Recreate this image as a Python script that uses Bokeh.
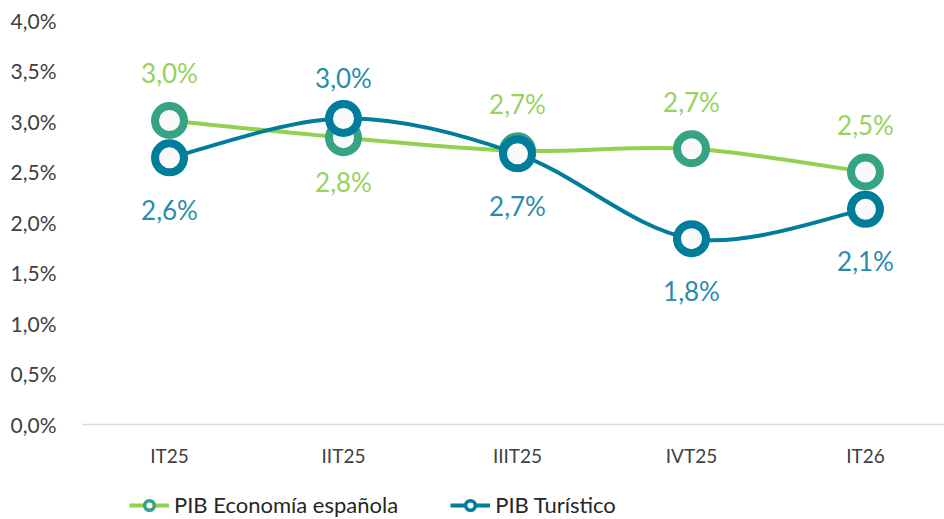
from bokeh.plotting import figure
from bokeh.models import ColumnDataSource, FixedTicker, Range1d, Legend, LegendItem, CustomJSTickFormatter, Span
from bokeh.embed import file_html
from bokeh.resources import INLINE
from bokeh.core.properties import value

quarters = ["IT25", "IIT25", "IIIT25", "IVT25", "IT26"]
pib_economia = [3.01, 2.84, 2.71, 2.73, 2.50]
pib_turistico = [2.64, 3.03, 2.68, 1.84, 2.13]
labels_economia = ["3,0%", "2,8%", "2,7%", "2,7%", "2,5%"]
labels_turistico = ["2,6%", "3,0%", "2,7%", "1,8%", "2,1%"]
place_economia = ["above", "below", "above", "above", "above"]
place_turistico = ["below", "above", "below", "below", "below"]
y_ticks = [0.0, 0.5, 1.0, 1.5, 2.0, 2.5, 3.0, 3.5, 4.0]

GREEN_LINE = "#92D050"
GREEN_MARK = "#36A385"
GREEN_TEXT = "#97D25E"
BLUE_LINE = "#007D9B"
BLUE_TEXT = "#2A8CA8"
FONT = "Lato"

xs = list(range(len(quarters)))

p = figure(width=944, height=519, output_backend="svg", toolbar_location=None,
           x_range=Range1d(-0.5, 4.454), y_range=Range1d(-0.9406, 4.0),
           min_border_left=82, min_border_right=0, min_border_top=20, min_border_bottom=0)
p.outline_line_color = None
p.background_fill_color = "white"
p.xgrid.grid_line_color = None
p.ygrid.grid_line_color = None

# y axis
p.yaxis.ticker = FixedTicker(ticks=y_ticks)
p.yaxis.formatter = CustomJSTickFormatter(code="return tick.toFixed(1).replace('.', ',') + '%';")
p.yaxis.axis_line_color = None
p.yaxis.major_tick_line_color = None
p.yaxis.minor_tick_line_color = None
p.yaxis.major_label_standoff = 20
p.yaxis.major_label_text_font = FONT
p.yaxis.major_label_text_font_size = "21px"
p.yaxis.major_label_text_color = "#404040"

# category axis drawn inside the frame (baseline + labels) so the legend fits below it
p.xaxis.visible = False
p.add_layout(Span(location=0, dimension="width", line_color="#D9D9D9", line_width=1.5))
p.text(x=xs, y=[0] * len(xs), text=quarters, y_offset=31, text_align="center",
       text_baseline="middle", text_font=value(FONT), text_font_size="19px",
       text_color="#404040")


def smooth_segments(ys):
    # Bezier control points derived from the series (Catmull-Rom style smoothing)
    n = len(ys)
    segs = dict(x0=[], y0=[], x1=[], y1=[], cx0=[], cy0=[], cx1=[], cy1=[])
    for i in range(n - 1):
        p0 = (xs[max(i - 1, 0)], ys[max(i - 1, 0)])
        p1 = (xs[i], ys[i])
        p2 = (xs[i + 1], ys[i + 1])
        p3 = (xs[min(i + 2, n - 1)], ys[min(i + 2, n - 1)])
        segs["x0"].append(p1[0]); segs["y0"].append(p1[1])
        segs["x1"].append(p2[0]); segs["y1"].append(p2[1])
        segs["cx0"].append(p1[0] + (p2[0] - p0[0]) / 6)
        segs["cy0"].append(p1[1] + (p2[1] - p0[1]) / 6)
        segs["cx1"].append(p2[0] - (p3[0] - p1[0]) / 6)
        segs["cy1"].append(p2[1] - (p3[1] - p1[1]) / 6)
    return ColumnDataSource(segs)


def add_series(ys, line_color, mark_color, text_color, labels, places, above_off, below_off):
    p.bezier(x0="x0", y0="y0", x1="x1", y1="y1", cx0="cx0", cy0="cy0", cx1="cx1", cy1="cy1",
             source=smooth_segments(ys), line_color=line_color, line_width=4)
    sc = p.scatter(xs, ys, size=29, fill_color="#F9F9F9", line_color=mark_color, line_width=8)
    offs = [above_off if pl == "above" else below_off for pl in places]
    src = ColumnDataSource(dict(x=xs, y=ys, t=labels, o=offs))
    p.text(x="x", y="y", text="t", y_offset="o", source=src, text_align="center",
           text_baseline="middle", text_font=value(FONT), text_font_size="26px",
           text_color=text_color)
    return sc


add_series(pib_economia, GREEN_LINE, GREEN_MARK, GREEN_TEXT, labels_economia, place_economia, -47, 44)
add_series(pib_turistico, BLUE_LINE, BLUE_LINE, BLUE_TEXT, labels_turistico, place_turistico, -40, 52)

# legend proxies (drawn off-range, only their legend glyphs show)
lg_line_g = p.line([0, 0], [-10, -10], line_color=GREEN_LINE, line_width=4)
lg_mark_g = p.scatter([0], [-10], size=11, fill_color="#F9F9F9", line_color=GREEN_MARK, line_width=3.5)
lg_line_b = p.line([0, 0], [-10, -10], line_color=BLUE_LINE, line_width=4)
lg_mark_b = p.scatter([0], [-10], size=11, fill_color="#F9F9F9", line_color=BLUE_LINE, line_width=3.5)

legend = Legend(items=[
    LegendItem(label="PIB Economía española", renderers=[lg_line_g, lg_mark_g]),
    LegendItem(label="PIB Turístico", renderers=[lg_line_b, lg_mark_b]),
], orientation="horizontal", location=(47, 1))
legend.border_line_color = None
legend.background_fill_alpha = 0
legend.padding = 0
legend.margin = 0
legend.spacing = 52
legend.glyph_width = 40
legend.glyph_height = 24
legend.label_standoff = 5
legend.label_height = 24
legend.label_text_font = FONT
legend.label_text_font_size = "22px"
legend.label_text_color = "#262626"
p.add_layout(legend, "center")

open("out.html", "w").write(file_html(p, INLINE))
